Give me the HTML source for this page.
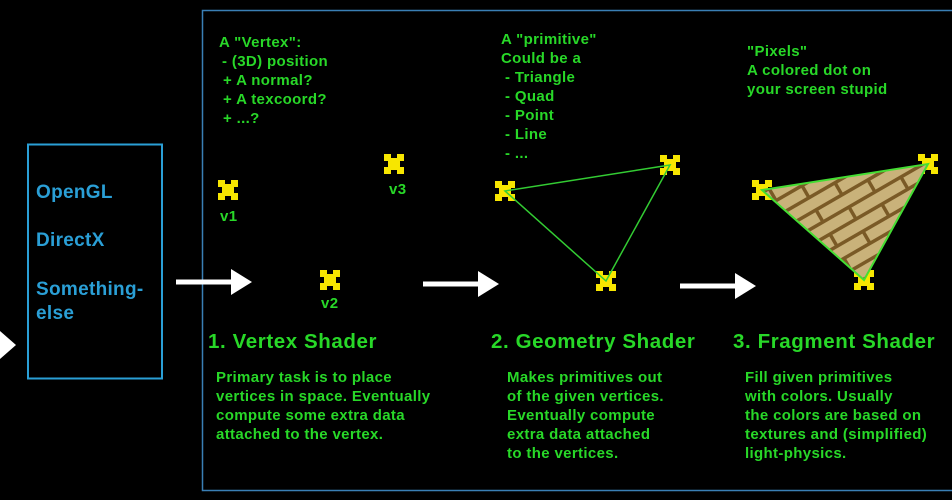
<!DOCTYPE html>
<html><head><meta charset="utf-8"><style>
html,body{margin:0;padding:0;background:#000;width:952px;height:500px;overflow:hidden}
svg{display:block}
text{font-family:"Liberation Sans",Arial,sans-serif;font-weight:bold}
.g{fill:#28d828;font-size:15px;letter-spacing:0.35px}
.t{fill:#28d828;font-size:20.5px;letter-spacing:0.6px}
.b{fill:#2a9fd6;font-size:19px;letter-spacing:0.3px}
</style></head><body>
<svg width="952" height="500" viewBox="0 0 952 500">
<defs>
<g id="m">
<rect x="-10" y="-10" width="20" height="20" fill="#f7e600"/>
<rect x="-3" y="-10" width="6" height="4" fill="#000"/>
<rect x="-3" y="6" width="6" height="4" fill="#000"/>
<rect x="-10" y="-3" width="4" height="6" fill="#000"/>
<rect x="6" y="-3" width="4" height="6" fill="#000"/>
</g>
<pattern id="brick" width="60" height="28" patternUnits="userSpaceOnUse" patternTransform="rotate(-30)">
<rect width="60" height="28" fill="#c9b27a"/>
<rect y="0" width="60" height="3.5" fill="#7a5a26"/>
<rect y="14" width="60" height="3.5" fill="#7a5a26"/>
<rect x="0" y="0" width="3.5" height="14" fill="#7a5a26"/>
<rect x="30" y="14" width="3.5" height="14" fill="#7a5a26"/>
</pattern>
<g id="arr">
<rect x="0" y="-2.5" width="58" height="5" fill="#fff"/>
<polygon points="55,-13 76,0 55,13" fill="#fff"/>
</g>
</defs>
<rect x="202.5" y="10.5" width="760" height="480" fill="none" stroke="#3a7fb5" stroke-width="1.5"/>
<rect x="28" y="144.5" width="134" height="234" fill="none" stroke="#2a9fd6" stroke-width="2"/>
<polygon points="0,331 16,345 0,359" fill="#fff"/>
<text class="b" x="36" y="198">OpenGL</text>
<text class="b" x="36" y="246">DirectX</text>
<text class="b" x="36" y="295">Something-</text>
<text class="b" x="36" y="319">else</text>
<use href="#arr" x="176" y="282"/>
<use href="#arr" x="423" y="284"/>
<use href="#arr" x="680" y="286"/>
<text class="g" x="219" y="47">A "Vertex":</text>
<text class="g" x="222" y="66">- (3D) position</text>
<text class="g" x="223" y="85">+ A normal?</text>
<text class="g" x="223" y="104">+ A texcoord?</text>
<text class="g" x="223" y="123">+ ...?</text>
<use href="#m" x="228" y="190"/>
<use href="#m" x="394" y="164"/>
<use href="#m" x="330" y="280"/>
<text class="g" x="220" y="221">v1</text>
<text class="g" x="389" y="194">v3</text>
<text class="g" x="321" y="308">v2</text>
<text class="t" x="208" y="348">1. Vertex Shader</text>
<text class="g" x="216" y="382">Primary task is to place</text>
<text class="g" x="216" y="401">vertices in space. Eventually</text>
<text class="g" x="216" y="420">compute some extra data</text>
<text class="g" x="216" y="439">attached to the vertex.</text>
<text class="g" x="501" y="44">A "primitive"</text>
<text class="g" x="501" y="63">Could be a</text>
<text class="g" x="505" y="82">- Triangle</text>
<text class="g" x="505" y="101">- Quad</text>
<text class="g" x="505" y="120">- Point</text>
<text class="g" x="505" y="139">- Line</text>
<text class="g" x="505" y="158">- ...</text>
<use href="#m" x="505" y="191"/>
<use href="#m" x="670" y="165"/>
<use href="#m" x="606" y="281"/>
<polygon points="505,191 670,165 606,281" fill="none" stroke="#33cc33" stroke-width="1.5"/>
<text class="t" x="491" y="348">2. Geometry Shader</text>
<text class="g" x="507" y="382">Makes primitives out</text>
<text class="g" x="507" y="401">of the given vertices.</text>
<text class="g" x="507" y="420">Eventually compute</text>
<text class="g" x="507" y="439">extra data attached</text>
<text class="g" x="507" y="458">to the vertices.</text>
<text class="g" x="747" y="56">"Pixels"</text>
<text class="g" x="747" y="75">A colored dot on</text>
<text class="g" x="747" y="94">your screen stupid</text>
<use href="#m" x="762" y="190"/>
<use href="#m" x="928" y="164"/>
<use href="#m" x="864" y="280"/>
<polygon points="762,190 928,164 864,280" fill="url(#brick)" stroke="#44dd33" stroke-width="2"/>
<text class="t" x="733" y="348">3. Fragment Shader</text>
<text class="g" x="745" y="382">Fill given primitives</text>
<text class="g" x="745" y="401">with colors. Usually</text>
<text class="g" x="745" y="420">the colors are based on</text>
<text class="g" x="745" y="439">textures and (simplified)</text>
<text class="g" x="745" y="458">light-physics.</text>
</svg>
</body></html>
